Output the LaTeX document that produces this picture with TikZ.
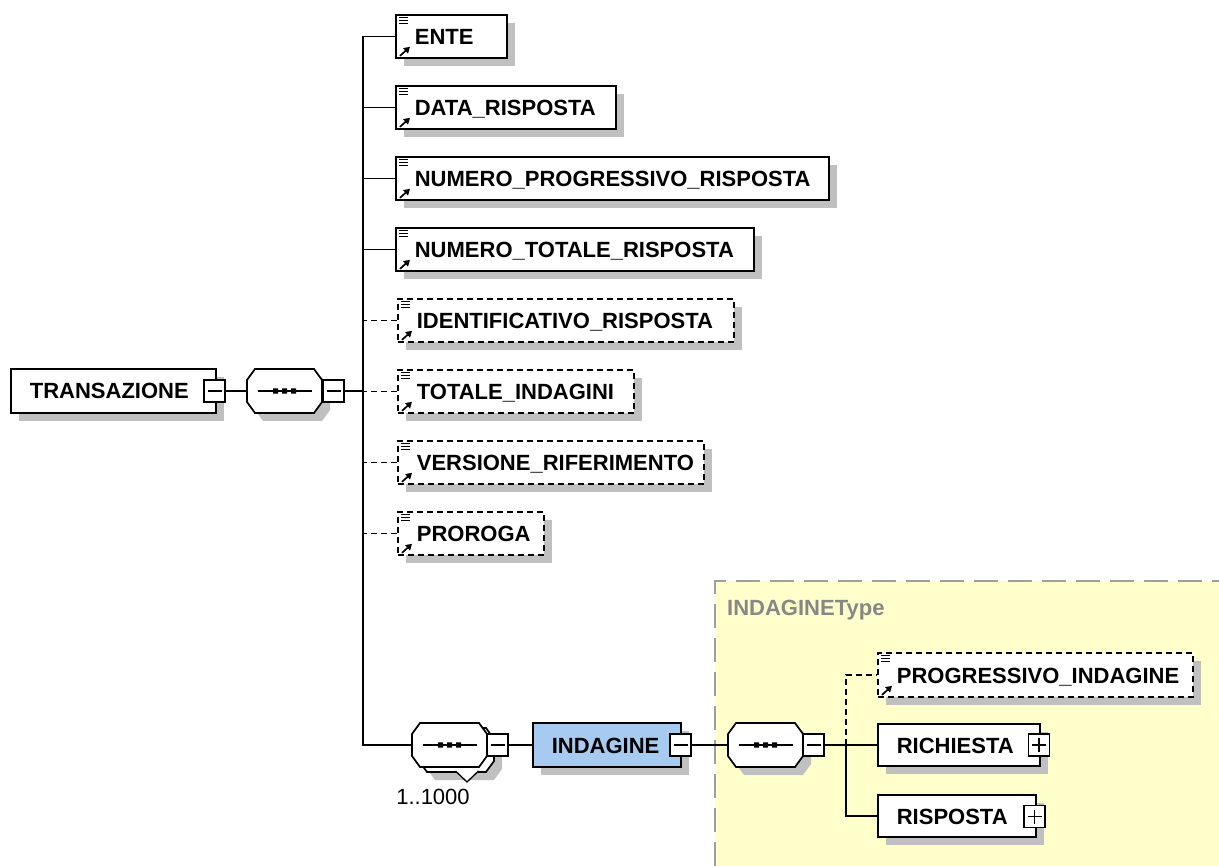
\documentclass[tikz,border=0pt]{standalone}
\usepackage{fontspec}
\setmainfont{Liberation Sans}
\usetikzlibrary{shadows,arrows.meta}
\definecolor{shadowc}{RGB}{192,192,192}
\definecolor{indblue}{RGB}{166,202,240}
\definecolor{typeyellow}{RGB}{255,255,204}
\definecolor{typegray}{RGB}{135,135,135}
\newcommand\xelfont{\fontsize{22}{26}\selectfont\bfseries}
\newcommand\xregfont{\fontsize{22}{26}\selectfont}
\newcommand\xlbl[2]{\makebox[#1pt][l]{\hspace{19pt}#2}}
\tikzset{
 conn/.style={line width=1.8pt},
 optconn/.style={conn, dash pattern=on 6pt off 4pt},
 elbox/.style={draw, line width=1.7pt, fill=white, minimum height=43pt, inner sep=0pt,
   anchor=west, font=\xelfont, text height=16pt, text depth=0pt,
   drop shadow={shadow xshift=8pt, shadow yshift=-8pt, fill=shadowc, opacity=1}},
 optbox/.style={elbox, dash pattern=on 6pt off 4pt},
 signbox/.style={draw, line width=1.7pt, fill=white, minimum width=21pt, minimum height=22pt, inner sep=0pt},
 minusbox/.style={signbox, path picture={\draw[line width=1.5pt]
   ([xshift=-7pt]path picture bounding box.center) -- ([xshift=7pt]path picture bounding box.center);}},
 plusbox/.style={signbox, path picture={\draw[line width=1.5pt]
   ([xshift=-7pt]path picture bounding box.center) -- ([xshift=7pt]path picture bounding box.center)
   ([yshift=-7pt]path picture bounding box.center) -- ([yshift=7pt]path picture bounding box.center);}},
 octline/.style={line width=1.7pt},
}
\newcommand\octpath{(-29.5,-22) -- (29.5,-22) -- (37.5,-11) -- (37.5,11) -- (29.5,22) -- (-29.5,22) -- (-37.5,11) -- (-37.5,-11) -- cycle}
\newcommand\seqsymbol{%
  \draw[line width=1.6pt] (-27,0) -- (27,0);
  \fill (-11.5,-2.6) rectangle (-6.5,2.6) (-2.5,-2.6) rectangle (2.5,2.6) (6.5,-2.6) rectangle (11.5,2.6);}
\newcommand\seqshape[3]{%
  \node[minimum width=75pt,minimum height=44pt,inner sep=0pt] (#1) at (#2,#3) {};
  \begin{scope}[shift={(#2,#3)}]
    \fill[shadowc,shift={(8,8)}] \octpath;
    \draw[octline,fill=white] \octpath;
    \seqsymbol
  \end{scope}}
\newcommand\seqmulti[3]{%
  \node[minimum width=75pt,minimum height=44pt,inner sep=0pt] (#1) at (#2,#3) {};
  \begin{scope}[shift={(#2,#3)}]
    \fill[shadowc,shift={(15,13)}] \octpath;
    \draw[octline,fill=white,shift={(7,5)}] \octpath;
    \fill[white] (6,26) -- (17.5,37) -- (29,26) -- cycle;
    \draw[line width=1.3pt] (6,26) -- (17.5,37) -- (29,26);
    \draw[octline,fill=white] \octpath;
    \seqsymbol
  \end{scope}}
\newcommand\xicon[1]{%
  \draw[line width=1.1pt] ([shift={(4,3.5)}]#1.north west) -- ++(9,0)
    ([shift={(4,6.5)}]#1.north west) -- ++(9,0)
    ([shift={(4,9.5)}]#1.north west) -- ++(9,0);
  \draw[line width=1.7pt,-{Triangle[length=6pt,width=7pt]}] ([shift={(5,-3)}]#1.south west) -- ++(10,-9);}
\begin{document}
\begin{tikzpicture}[x=1pt,y=-1pt]
\useasboundingbox (0,0) rectangle (1219,866);
\fill[white] (0,0) rectangle (1219,866);
% complex type region
\fill[typeyellow] (715,581) rectangle (1219,866);
\draw[typegray!80, line width=1.6pt, dash pattern=on 24pt off 10pt] (715,866) -- (715,581) -- (1219,581);
\node[font=\xelfont, text=typegray, anchor=west, inner sep=0pt] (typelbl) at (727,610) {INDAGINEType};

% root
\node[elbox, minimum height=44pt] (trans) at (10,391) {\xlbl{205}{TRANSAZIONE}};
\node[minusbox] (tm) at (214.5,391) {};
\seqshape{seq1}{284.5}{391}
\node[minusbox] (m1) at (333.5,391) {};
\coordinate (trunk) at (363,391);

% children
\node[elbox] (ente) at (395,36.5) {\xlbl{111}{ENTE}}; \xicon{ente}
\node[elbox] (data) at (395,107.5) {\xlbl{220}{DATA\_RISPOSTA}}; \xicon{data}
\node[elbox] (nprog) at (395,178.5) {\xlbl{433}{NUMERO\_PROGRESSIVO\_RISPOSTA}}; \xicon{nprog}
\node[elbox] (ntot) at (395,249.5) {\xlbl{358}{NUMERO\_TOTALE\_RISPOSTA}}; \xicon{ntot}
\node[optbox] (ident) at (397,320.5) {\xlbl{336}{IDENTIFICATIVO\_RISPOSTA}}; \xicon{ident}
\node[optbox] (totind) at (397,391.5) {\xlbl{236}{TOTALE\_INDAGINI}}; \xicon{totind}
\node[optbox] (vers) at (397,462.5) {\xlbl{306}{VERSIONE\_RIFERIMENTO}}; \xicon{vers}
\node[optbox] (proroga) at (397,533.5) {\xlbl{146}{PROROGA}}; \xicon{proroga}

% repeated sequence
\seqmulti{seq2}{449.5}{745}
\node[minusbox] (m2) at (497.5,745) {};
\node[font=\xregfont, inner sep=0pt] (card) at (433,797) {1..1000};
\node[elbox, minimum height=44pt, fill=indblue] (indag) at (532,745) {\xlbl{148}{INDAGINE}};
\node[minusbox] (im) at (680.5,745) {};

% INDAGINEType content
\seqshape{seq3}{765.5}{745}
\node[minusbox] (m3) at (813.5,745) {};
\coordinate (branch) at (846,745);
\node[optbox, minimum height=44pt] (prog) at (877,675) {\xlbl{315}{PROGRESSIVO\_INDAGINE}}; \xicon{prog}
\node[elbox, minimum height=42pt] (rich) at (877,745) {\xlbl{162}{RICHIESTA}};
\node[plusbox] (rp) at (1039,745) {};
\node[elbox, minimum height=42pt] (risp) at (877,816) {\xlbl{158}{RISPOSTA}};
\node[plusbox] (sp) at (1034.5,816.5) {};

% connectors
\draw[conn] (tm.east) -- (seq1.west);
\draw[conn] (m1.east) -- (m1.east -| trunk);
\draw[conn] (ente.west) -| (trunk) |- (seq2.west);
\draw[conn] (data.west) -- (data.west -| trunk);
\draw[conn] (nprog.west) -- (nprog.west -| trunk);
\draw[conn] (ntot.west) -- (ntot.west -| trunk);
\draw[optconn] (ident.west) -- (ident.west -| trunk);
\draw[optconn] (totind.west) -- (totind.west -| trunk);
\draw[optconn] (vers.west) -- (vers.west -| trunk);
\draw[optconn] (proroga.west) -- (proroga.west -| trunk);
\draw[conn] (m2.east) -- (indag.west);
\draw[conn] (im.east) -- (seq3.west);
\draw[conn] (m3.east) -- (rich.west);
\draw[conn] (branch) |- (risp.west);
\draw[optconn] (branch) |- (prog.west);
\end{tikzpicture}
\end{document}
